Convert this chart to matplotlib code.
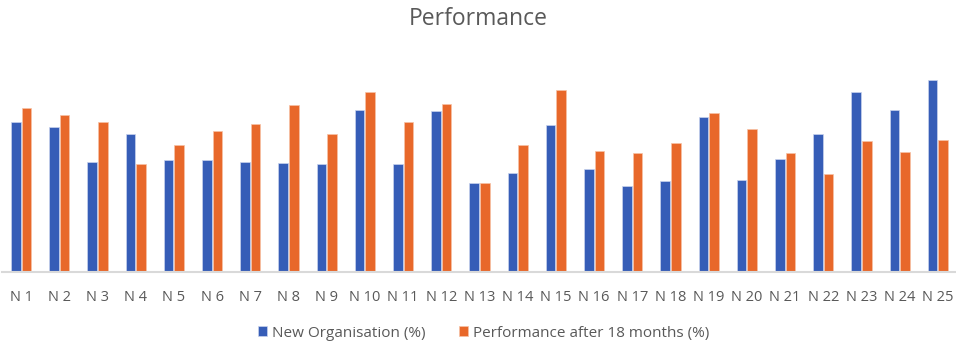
import matplotlib.pyplot as plt
import numpy as np

plt.rcParams['font.family'] = ['Open Sans', 'DejaVu Sans']

labels = ['N %d' % i for i in range(1, 26)]
new_org = [74.8, 72.5, 54.8, 68.8, 55.8, 55.8, 54.8, 54.3, 53.8, 81.2,
           53.8, 80.7, 44.3, 49.3, 73.3, 51.5, 42.8, 45.7, 77.3, 46.0,
           56.5, 68.8, 90.2, 81.0, 96.0]
after_18 = [82.0, 78.5, 74.8, 53.8, 63.3, 70.7, 73.8, 83.5, 68.8, 89.8,
            74.8, 84.0, 44.3, 63.3, 91.2, 60.3, 59.3, 64.3, 79.3, 71.5,
            59.3, 48.8, 65.3, 59.8, 65.8]

blue = '#365DB7'
orange = '#E8682A'
text_col = '#595959'

fig = plt.figure(figsize=(9.56, 3.46), dpi=100)
ax = fig.add_axes([2 / 956, 74 / 346, 955 / 956, 200 / 346])

x = np.arange(len(labels))
w = 0.25
ax.bar(x - 0.14, new_org, w, color=blue, edgecolor='#c9d3ee', linewidth=0.5,
       label='New Organisation (%)')
ax.bar(x + 0.14, after_18, w, color=orange, edgecolor='#f6c2a6', linewidth=0.5,
       label='Performance after 18 months (%)')

ax.set_xlim(-0.5, len(labels) - 0.5)
ax.set_ylim(0, 100)
ax.set_xticks(x)
ax.set_xticklabels(labels, fontsize=10.5, color=text_col)
ax.tick_params(axis='x', length=0, pad=13)
ax.set_yticks([])
for side in ['top', 'right', 'left']:
    ax.spines[side].set_visible(False)
ax.spines['bottom'].set_color('#D9D9D9')
ax.spines['bottom'].set_linewidth(1.5)

fig.text(0.5, 0.945, 'Performance', ha='center', va='center',
         fontsize=16.5, color=text_col)

fig.legend(loc='center', bbox_to_anchor=(0.506, 0.037), ncol=2, frameon=False,
           fontsize=11, labelcolor=text_col, handlelength=0.6,
           handleheight=0.6, handletextpad=0.3, columnspacing=2.2)

fig.savefig('out.png', dpi=100)
